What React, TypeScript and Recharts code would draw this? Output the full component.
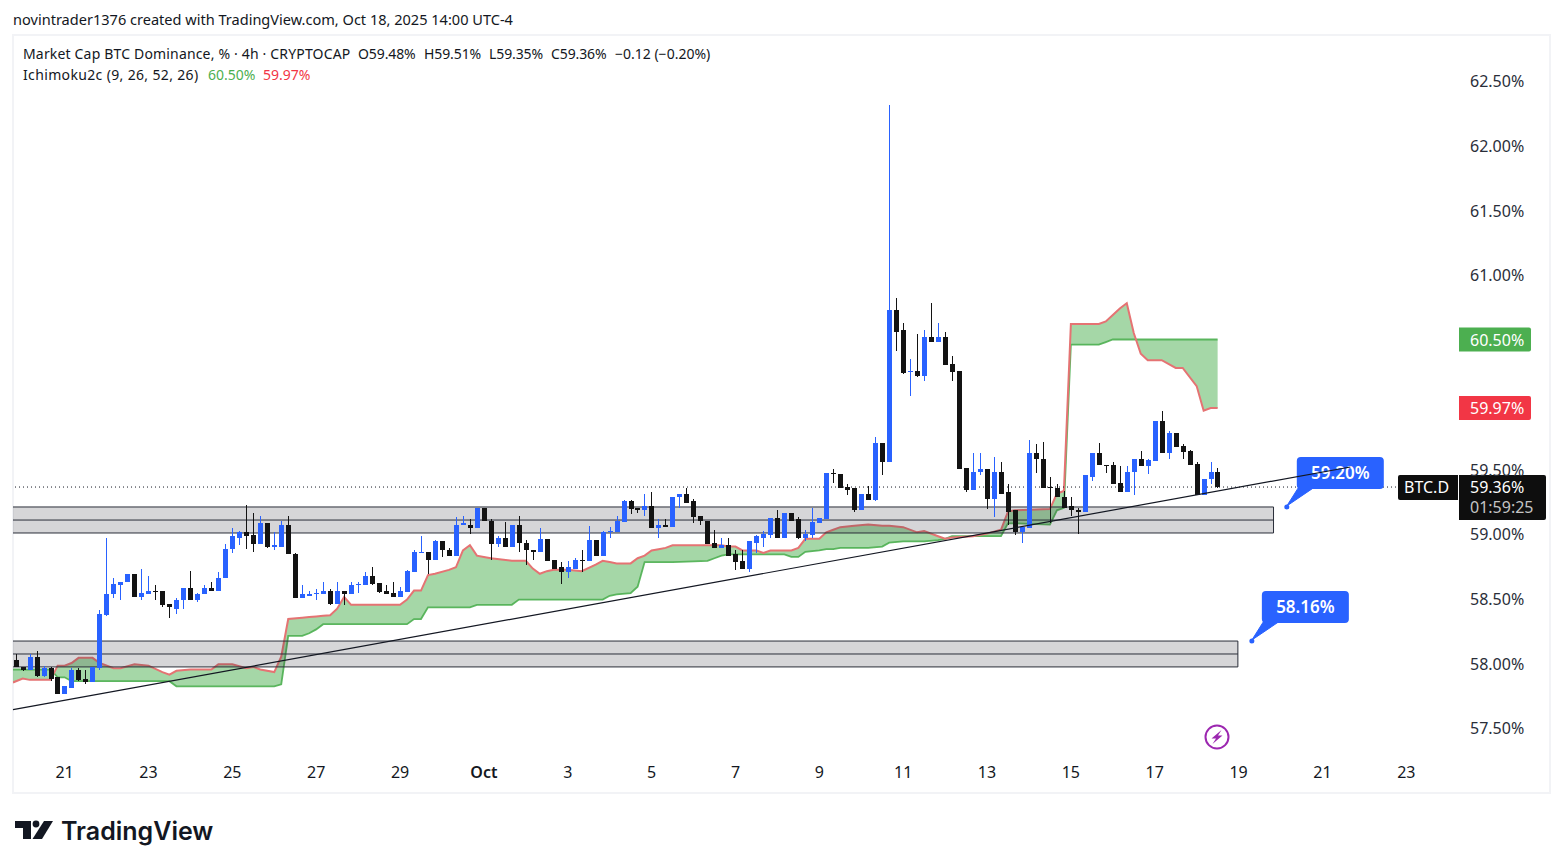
import React from 'react';
import {
  ComposedChart,
  Bar,
  Area,
  Line,
  XAxis,
  YAxis,
  ReferenceArea,
  ReferenceLine,
  ReferenceDot,
} from 'recharts';

const FONT = '"Noto Sans", sans-serif';
const INK = '#131722';
const UP = '#2962ff';
const DOWN = '#131313';
const GREEN = '#4caf50';
const RED = '#f23645';

// OHLC per 4h bar: [open, high, low, close]
const candles: number[][] = [
  [58.02, 58.07, 57.97, 57.97], [57.97, 57.97, 57.94, 57.95], [57.95, 58.07, 57.95, 58.05], [58.05, 58.09, 57.89, 57.9],
  [57.9, 57.98, 57.89, 57.96], [57.96, 57.97, 57.86, 57.88], [57.89, 57.89, 57.76, 57.76], [57.76, 57.82, 57.76, 57.82],
  [57.81, 57.96, 57.81, 57.95], [57.95, 57.96, 57.86, 57.87], [57.88, 57.95, 57.84, 57.85], [57.85, 57.97, 57.85, 57.97],
  [57.96, 58.41, 57.95, 58.38], [58.37, 58.97, 58.36, 58.53], [58.53, 58.66, 58.5, 58.61], [58.6, 58.63, 58.49, 58.63],
  [58.63, 58.69, 58.63, 58.69], [58.69, 58.69, 58.51, 58.51], [58.51, 58.73, 58.49, 58.54], [58.53, 58.67, 58.53, 58.56],
  [58.56, 58.6, 58.49, 58.55], [58.56, 58.56, 58.43, 58.45], [58.46, 58.46, 58.35, 58.43], [58.42, 58.5, 58.38, 58.49],
  [58.49, 58.58, 58.42, 58.58], [58.58, 58.71, 58.49, 58.49], [58.49, 58.54, 58.47, 58.53], [58.53, 58.6, 58.53, 58.58],
  [58.58, 58.63, 58.56, 58.56], [58.56, 58.7, 58.56, 58.66], [58.66, 58.92, 58.66, 58.88], [58.88, 59.04, 58.85, 58.98],
  [58.97, 59.02, 58.91, 59.01], [59.01, 59.22, 58.88, 58.98], [58.99, 59.16, 58.86, 58.92], [58.92, 59.14, 58.92, 59.08],
  [59.08, 59.08, 58.89, 58.9], [58.9, 59.01, 58.87, 58.91], [58.9, 59.1, 58.9, 59.07], [59.07, 59.14, 58.84, 58.84],
  [58.84, 58.85, 58.5, 58.5], [58.5, 58.6, 58.5, 58.53], [58.52, 58.56, 58.52, 58.53], [58.53, 58.57, 58.49, 58.54],
  [58.53, 58.63, 58.53, 58.56], [58.56, 58.57, 58.45, 58.46], [58.46, 58.63, 58.46, 58.56], [58.56, 58.56, 58.45, 58.53],
  [58.53, 58.63, 58.53, 58.6], [58.6, 58.63, 58.54, 58.61], [58.6, 58.7, 58.6, 58.67], [58.67, 58.74, 58.6, 58.61],
  [58.62, 58.62, 58.54, 58.55], [58.56, 58.6, 58.53, 58.53], [58.54, 58.63, 58.51, 58.51], [58.51, 58.59, 58.51, 58.56],
  [58.55, 58.72, 58.55, 58.71], [58.7, 58.87, 58.7, 58.86], [58.85, 58.98, 58.85, 58.86], [58.86, 58.86, 58.69, 58.8],
  [58.8, 58.95, 58.8, 58.94], [58.94, 58.94, 58.82, 58.87], [58.87, 58.89, 58.83, 58.83], [58.83, 59.13, 58.83, 59.07],
  [59.07, 59.14, 59.07, 59.08], [59.07, 59.11, 59.0, 59.04], [59.04, 59.2, 59.04, 59.2], [59.2, 59.2, 59.1, 59.1],
  [59.1, 59.11, 58.8, 58.92], [58.92, 58.98, 58.9, 58.97], [58.97, 59.09, 58.9, 58.9], [58.9, 59.07, 58.9, 59.07],
  [59.07, 59.14, 58.86, 58.93], [58.93, 58.95, 58.76, 58.87], [58.87, 58.87, 58.8, 58.86], [58.86, 59.04, 58.86, 58.96],
  [58.96, 58.96, 58.79, 58.79], [58.8, 58.8, 58.73, 58.73], [58.74, 58.78, 58.61, 58.7], [58.7, 58.79, 58.66, 58.74],
  [58.73, 58.81, 58.73, 58.8], [58.8, 58.87, 58.7, 58.79], [58.79, 59.06, 58.79, 58.95], [58.95, 58.95, 58.83, 58.83],
  [58.83, 59.02, 58.83, 59.01], [59.01, 59.05, 58.97, 59.02], [59.01, 59.14, 59.01, 59.1], [59.09, 59.26, 59.09, 59.25],
  [59.25, 59.26, 59.15, 59.19], [59.2, 59.2, 59.16, 59.18], [59.18, 59.31, 59.14, 59.21], [59.21, 59.32, 59.04, 59.04],
  [59.04, 59.11, 58.97, 59.07], [59.07, 59.11, 59.05, 59.05], [59.05, 59.28, 59.05, 59.28], [59.28, 59.31, 59.2, 59.31],
  [59.31, 59.35, 59.24, 59.24], [59.25, 59.27, 59.08, 59.13], [59.14, 59.14, 59.07, 59.1], [59.1, 59.1, 58.92, 58.92],
  [58.93, 59.03, 58.89, 58.89], [58.89, 58.97, 58.89, 58.91], [58.91, 58.97, 58.83, 58.83], [58.84, 58.87, 58.72, 58.78],
  [58.79, 58.87, 58.73, 58.73], [58.73, 58.94, 58.7, 58.94], [58.93, 58.99, 58.85, 58.98], [58.97, 59.02, 58.9, 59.0],
  [58.99, 59.12, 58.97, 59.12], [59.12, 59.18, 58.97, 58.97], [58.97, 59.16, 58.97, 59.16], [59.16, 59.16, 59.1, 59.1],
  [59.11, 59.13, 58.96, 58.97], [58.97, 59.03, 58.94, 59.0], [58.99, 59.2, 58.97, 59.09], [59.08, 59.12, 59.08, 59.12],
  [59.11, 59.47, 59.11, 59.47], [59.47, 59.5, 59.39, 59.46], [59.46, 59.46, 59.35, 59.35], [59.36, 59.38, 59.3, 59.34],
  [59.35, 59.35, 59.17, 59.18], [59.18, 59.31, 59.18, 59.31], [59.31, 59.37, 59.26, 59.26], [59.26, 59.75, 59.25, 59.7],
  [59.7, 59.7, 59.45, 59.55], [59.55, 62.31, 59.55, 60.73], [60.73, 60.82, 60.41, 60.56], [60.57, 60.63, 60.23, 60.24],
  [60.25, 60.35, 60.06, 60.26], [60.26, 60.54, 60.21, 60.22], [60.22, 60.57, 60.18, 60.52], [60.52, 60.78, 60.48, 60.48],
  [60.48, 60.63, 60.48, 60.52], [60.52, 60.56, 60.3, 60.3], [60.31, 60.37, 60.18, 60.25], [60.26, 60.26, 59.5, 59.5],
  [59.51, 59.51, 59.32, 59.34], [59.34, 59.62, 59.34, 59.48], [59.48, 59.62, 59.45, 59.5], [59.5, 59.5, 59.19, 59.27],
  [59.27, 59.59, 59.13, 59.48], [59.48, 59.55, 59.31, 59.31], [59.32, 59.38, 59.07, 59.17], [59.18, 59.18, 58.99, 59.01],
  [59.01, 59.05, 58.93, 59.05], [59.04, 59.72, 59.04, 59.62], [59.62, 59.69, 59.47, 59.58], [59.58, 59.71, 59.35, 59.35],
  [59.36, 59.44, 59.08, 59.35], [59.35, 59.38, 59.28, 59.28], [59.28, 59.33, 59.2, 59.2], [59.21, 59.28, 59.14, 59.18],
  [59.18, 59.2, 59.0, 59.17], [59.17, 59.45, 59.17, 59.45], [59.44, 59.62, 59.41, 59.62], [59.62, 59.7, 59.53, 59.53],
  [59.53, 59.53, 59.47, 59.52], [59.53, 59.55, 59.38, 59.38], [59.39, 59.52, 59.32, 59.32], [59.32, 59.52, 59.32, 59.48],
  [59.48, 59.58, 59.3, 59.58], [59.58, 59.64, 59.52, 59.52], [59.52, 59.58, 59.46, 59.57], [59.56, 59.87, 59.56, 59.87],
  [59.87, 59.95, 59.62, 59.62], [59.62, 59.79, 59.58, 59.78], [59.78, 59.78, 59.67, 59.67], [59.68, 59.69, 59.58, 59.63],
  [59.64, 59.65, 59.53, 59.53], [59.54, 59.55, 59.3, 59.3], [59.3, 59.42, 59.3, 59.42], [59.42, 59.55, 59.38, 59.48],
  [59.48, 59.51, 59.35, 59.36],
];

// Ichimoku cloud at its visible break points: [bar, green span, red span]
const cloud: number[][] = [
  [-0.39, 57.95, 57.85], [1, 57.95, 57.88], [2, 57.95, 57.87], [5, 57.95, 57.87], [6, 57.89, 57.98], [7, 57.89, 57.98],
  [8, 57.86, 58.0], [9, 57.86, 58.04], [11, 57.86, 58.04], [12, 57.86, 58.0], [14, 57.86, 57.96], [15, 57.86, 57.96],
  [17, 57.86, 57.99], [19, 57.86, 57.98], [21, 57.86, 57.93], [22, 57.86, 57.91], [23, 57.82, 57.94], [25, 57.82, 57.95],
  [28, 57.82, 57.95], [29, 57.82, 57.99], [31, 57.82, 57.99], [33, 57.82, 57.96], [34, 57.82, 57.97], [35, 57.82, 57.95],
  [37, 57.82, 57.93], [38, 57.835, 58.05], [39, 58.21, 58.34], [41, 58.21, 58.35], [42, 58.23, 58.355], [43, 58.26, 58.36],
  [44, 58.3, 58.365], [45, 58.3, 58.37], [46, 58.3, 58.42], [47, 58.3, 58.51], [48, 58.3, 58.45], [55, 58.3, 58.45],
  [56, 58.3, 58.49], [57, 58.34, 58.56], [58, 58.34, 58.56], [59, 58.43, 58.68], [60, 58.43, 58.69], [62, 58.43, 58.72],
  [63, 58.43, 58.74], [64, 58.43, 58.87], [65, 58.43, 58.91], [66, 58.45, 58.83], [67, 58.45, 58.82], [68, 58.45, 58.81],
  [71, 58.45, 58.79], [72, 58.49, 58.79], [73, 58.49, 58.79], [74, 58.49, 58.73], [75, 58.49, 58.69], [76, 58.49, 58.71],
  [77, 58.49, 58.72], [79, 58.49, 58.72], [81, 58.49, 58.71], [83, 58.49, 58.76], [84, 58.49, 58.79], [85, 58.52, 58.78],
  [86, 58.53, 58.77], [88, 58.54, 58.77], [89, 58.59, 58.81], [90, 58.78, 58.83], [91, 58.78, 58.87], [92, 58.78, 58.88],
  [93, 58.78, 58.89], [94, 58.78, 58.91], [99, 58.79, 58.91], [100, 58.81, 58.91], [101, 58.83, 58.91], [102, 58.84, 58.9],
  [103, 58.84, 58.9], [104, 58.84, 58.87], [106, 58.84, 58.87], [107, 58.84, 58.85], [108, 58.84, 58.87], [110, 58.84, 58.87],
  [111, 58.82, 58.87], [112, 58.82, 58.89], [113, 58.86, 58.96], [115, 58.87, 58.96], [116, 58.88, 59.01], [117, 58.88, 59.03],
  [118, 58.89, 59.05], [120, 58.89, 59.06], [122, 58.89, 59.07], [124, 58.9, 59.06], [125, 58.93, 59.06], [127, 58.94, 59.05],
  [129, 58.94, 59.01], [130, 58.94, 59.02], [132, 58.95, 58.98], [133, 58.96, 58.96], [134, 58.98, 58.97], [137, 58.98, 58.98],
  [139, 58.98, 59.0], [141, 58.98, 59.03], [142, 59.08, 59.17], [143, 59.08, 59.18], [148, 59.07, 59.19], [149, 59.18, 59.31],
  [150, 59.2, 59.33], [151, 60.46, 60.62], [155, 60.46, 60.62], [156, 60.48, 60.64], [157, 60.5, 60.69], [158, 60.5, 60.74],
  [159, 60.5, 60.78], [160, 60.5, 60.55], [161, 60.5, 60.39], [162, 60.5, 60.34], [164, 60.5, 60.34], [166, 60.5, 60.28],
  [167, 60.5, 60.28], [169, 60.5, 60.14], [170, 60.5, 59.95], [171, 60.5, 59.97], [172, 60.5, 59.97],
];

const priceTicks = [57.5, 58, 58.5, 59, 59.5, 61, 61.5, 62, 62.5];
const dateTicks = [7, 19, 31, 43, 55, 67, 79, 91, 103, 115, 127, 139, 151, 163, 175, 187, 199];
const dateLabels = ['21', '23', '25', '27', '29', 'Oct', '3', '5', '7', '9', '11', '13', '15', '17', '19', '21', '23'];

// support zones: [right bar, bottom, middle, top]
const zones = [
  [180, 59.005, 59.105, 59.206],
  [174.9, 57.97, 58.07, 58.17],
];
const callouts = [
  { bar: 181.9, price: 59.206, label: '59.20%' },
  { bar: 176.9, price: 58.17, label: '58.16%' },
];
const trendLine = [
  { x: -0.386, y: 57.64 },
  { x: 191, y: 59.515 },
];
const lastClose = 59.36;
const spanA = 60.5;
const spanB = 59.97;

const X_DOMAIN: [number, number] = [-0.386, 205.54];
const Y_DOMAIN: [number, number] = [57.274, 62.853];

const candleRows = candles.map(([open, high, low, close], i) => ({ i, open, high, low, close }));
const cloudRows = cloud.map(([i, green, red]) => ({ i, green, red }));

function Candle(props: any) {
  const { x, y, width, height, payload } = props;
  const { open, high, low, close } = payload;
  const h = Math.abs(height);
  const perUnit = h / (high - low || 1);
  const top = y + (high - Math.max(open, close)) * perUnit;
  const bodyH = Math.max(Math.abs(open - close) * perUnit, 1);
  const color = close >= open ? UP : DOWN;
  const cx = Math.round(x + width / 2);
  return (
    <g shapeRendering="crispEdges">
      <rect x={cx - 0.5} y={y} width={1} height={Math.max(h, 1)} fill={color} />
      <rect x={cx - 2.5} y={top} width={5} height={bodyH} fill={color} />
    </g>
  );
}

function DateTick(props: any) {
  const { x, y, index } = props;
  const label = dateLabels[index];
  return (
    <text
      x={x}
      y={y + 13}
      textAnchor="middle"
      fontSize={16}
      fontFamily={FONT}
      fontWeight={label === 'Oct' ? 600 : 400}
      fill={INK}
    >
      {label}
    </text>
  );
}

function PriceTag(props: any) {
  const { viewBox, text, color } = props;
  const y = viewBox.y;
  return (
    <g>
      <path d={`M1459 ${y - 12}H1529a2 2 0 0 1 2 2V${y + 10}a2 2 0 0 1 -2 2H1459Z`} fill={color} />
      <text x={1470} y={y + 6} fontSize={16} fontFamily={FONT} fill="#fff">
        {text}
      </text>
    </g>
  );
}

function LastPriceTag(props: any) {
  const { viewBox } = props;
  const y = viewBox.y;
  return (
    <g fontFamily={FONT} fontSize={16}>
      <path d={`M1400 ${y - 12}H1458V${y + 13}H1400a2 2 0 0 1 -2 -2V${y - 10}a2 2 0 0 1 2 -2Z`} fill="#0e0e0e" />
      <text x={1404} y={y + 6} fill="#fff">BTC.D</text>
      <path d={`M1459 ${y - 12}H1544a2 2 0 0 1 2 2V${y + 31}a2 2 0 0 1 -2 2H1459Z`} fill="#0e0e0e" />
      <text x={1470} y={y + 6} fill="#fff">59.36%</text>
      <text x={1470} y={y + 26} fill="#c4c4c4">01:59:25</text>
    </g>
  );
}

function Callout(props: any) {
  const { cx, cy, label } = props;
  return (
    <g>
      <circle cx={cx} cy={cy} r={2.5} fill={UP} />
      <path d={`M${cx} ${cy - 1}L${cx + 12} ${cy - 20}H${cx + 28}Z`} fill={UP} stroke={UP} />
      <rect x={cx + 10} y={cy - 50} width={87} height={32} rx={4} fill={UP} />
      <text
        x={cx + 53.5}
        y={cy - 28}
        textAnchor="middle"
        fontSize={17}
        fontWeight={600}
        fontFamily={FONT}
        fill="#fff"
      >
        {label}
      </text>
    </g>
  );
}

const textLine = (left: number, top: number, spacing = 0): React.CSSProperties => ({
  position: 'absolute',
  left,
  top,
  fontFamily: FONT,
  fontSize: 14,
  lineHeight: '20px',
  letterSpacing: spacing,
  color: INK,
  whiteSpace: 'pre',
});

export default function App() {
  return (
    <div
      style={{
        position: 'absolute',
        left: 0,
        top: 0,
        width: 1563,
        height: 868,
        background: '#fff',
        overflow: 'hidden',
      }}
    >
      <div
        style={{
          position: 'absolute',
          left: 12,
          top: 34,
          width: 1539,
          height: 760,
          boxSizing: 'border-box',
          border: '2px solid #f2f3f6',
        }}
      />
      <div style={{ position: 'absolute', left: 0, top: 0 }}>
        <ComposedChart
          width={1563}
          height={868}
          data={candleRows}
          margin={{ top: 35, right: 11, bottom: 75, left: 13 }}
        >
          <XAxis
            dataKey="i"
            type="number"
            domain={X_DOMAIN}
            allowDataOverflow
            ticks={dateTicks}
            interval={0}
            axisLine={false}
            tickLine={false}
            height={36}
            tick={<DateTick />}
          />
          <YAxis
            orientation="right"
            type="number"
            domain={Y_DOMAIN}
            allowDataOverflow
            ticks={priceTicks}
            interval={0}
            axisLine={false}
            tickLine={false}
            width={100}
            tickMargin={12}
            tickFormatter={(v: number) => `${v.toFixed(2)}%`}
            tick={{ fontSize: 16, fontFamily: FONT, fill: '#2a2e39', dy: 1 }}
          />
          <Area
            data={cloudRows}
            dataKey={(d: any) => [d.green, d.red]}
            type="linear"
            stroke="none"
            fill={GREEN}
            fillOpacity={0.5}
            dot={false}
            activeDot={false}
            isAnimationActive={false}
          />
          <Line
            data={cloudRows}
            dataKey="green"
            type="linear"
            stroke={GREEN}
            strokeOpacity={0.9}
            strokeWidth={1.8}
            dot={false}
            activeDot={false}
            isAnimationActive={false}
          />
          <Line
            data={cloudRows}
            dataKey="red"
            type="linear"
            stroke="#e57373"
            strokeWidth={2}
            dot={false}
            activeDot={false}
            isAnimationActive={false}
          />
          {zones.map(([right, bottom, middle, top]) => (
            <ReferenceArea
              key={bottom}
              x1={X_DOMAIN[0] - 1}
              x2={right}
              y1={bottom}
              y2={top}
              ifOverflow="hidden"
              fill="#32323c"
              fillOpacity={0.2}
              stroke="#2a2e39"
              strokeWidth={1}
              zIndex={450}
            />
          ))}
          {zones.map(([right, bottom, middle]) => (
            <ReferenceLine
              key={middle}
              segment={[
                { x: X_DOMAIN[0], y: middle },
                { x: right, y: middle },
              ]}
              stroke="#2a2e39"
              strokeWidth={1}
              zIndex={460}
            />
          ))}
          <ReferenceLine y={lastClose} stroke="#131722" strokeWidth={1} strokeDasharray="1 3" zIndex={470} />
          <Bar
            dataKey={(d: any) => [d.low, d.high]}
            barSize={5}
            shape={<Candle />}
            isAnimationActive={false}
            zIndex={480}
          />
          {callouts.map((c) => (
            <ReferenceDot
              key={c.label}
              x={c.bar}
              y={c.price}
              r={3}
              shape={<Callout label={c.label} />}
              zIndex={800}
            />
          ))}
          <ReferenceLine segment={trendLine} stroke="#131722" strokeWidth={1.2} zIndex={850} />
          <ReferenceLine y={spanA} stroke="none" label={<PriceTag text="60.50%" color={GREEN} />} zIndex={900} />
          <ReferenceLine y={spanB} stroke="none" label={<PriceTag text="59.97%" color={RED} />} zIndex={900} />
          <ReferenceLine y={lastClose} stroke="none" label={<LastPriceTag />} zIndex={900} />
        </ComposedChart>
      </div>

      <div style={{ ...textLine(13, 9), fontSize: 14.55 }}>
        novintrader1376 created with TradingView.com, Oct 18, 2025 14:00 UTC-4
      </div>
      <div style={textLine(23, 44, 0.17)}>Market Cap BTC Dominance, % · 4h · CRYPTOCAP</div>
      <div style={textLine(358, 44, -0.1)}>O59.48%</div>
      <div style={textLine(424, 44, -0.1)}>H59.51%</div>
      <div style={textLine(489, 44, -0.1)}>L59.35%</div>
      <div style={textLine(551, 44, -0.1)}>C59.36%</div>
      <div style={textLine(615, 44)}>−0.12 (−0.20%)</div>
      <div style={textLine(23, 65, 0.35)}>Ichimoku2c (9, 26, 52, 26)</div>
      <div style={{ ...textLine(208, 65), color: GREEN }}>60.50%</div>
      <div style={{ ...textLine(263, 65), color: RED }}>59.97%</div>

      <svg style={{ position: 'absolute', left: 0, top: 0 }} width={1563} height={868} pointerEvents="none">
        <circle cx={1217} cy={737} r={11.5} fill="#fff" stroke="#9c27b0" strokeWidth={2} />
        <path d="M1221.5 730L1211.5 738.5H1216L1212.5 744L1222.5 735.5H1218Z" fill="#9c27b0" />
        <path d="M15 821H31V839H23V828H15Z" fill="#131722" />
        <circle cx={36} cy={824} r={3.4} fill="#131722" />
        <path d="M44 821H53L42 839H32.5Z" fill="#131722" />
        <text x={61} y={840} fontFamily="Inter, sans-serif" fontWeight={600} fontSize={25} fill="#131722">
          TradingView
        </text>
      </svg>
    </div>
  );
}
